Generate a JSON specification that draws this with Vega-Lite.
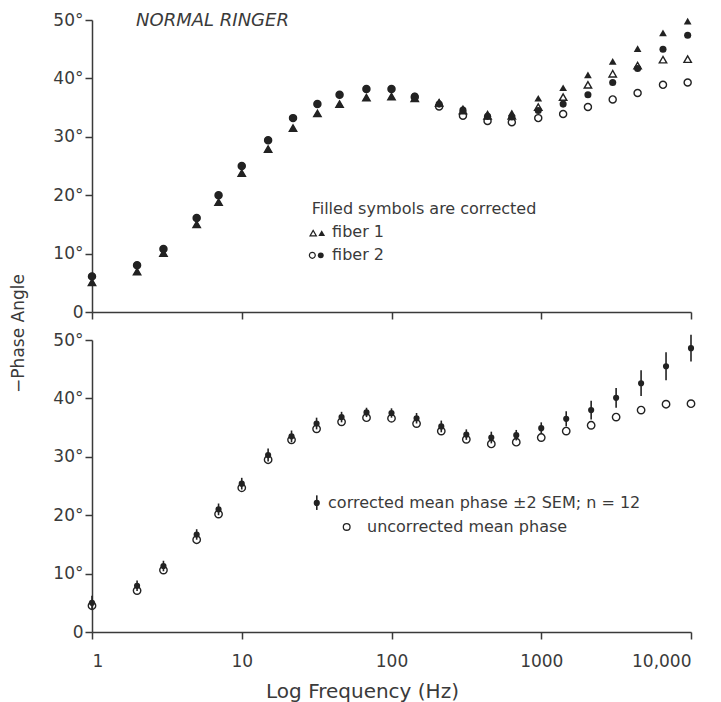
{
  "$schema": "https://vega.github.io/schema/vega-lite/v6.json",
  "background": "white",
  "autosize": {"type": "pad"},
  "padding": {"left": 9, "top": 11, "right": 0, "bottom": 5},
  "spacing": 28,
  "bounds": "flush",
  "config": {
    "view": {"stroke": null},
    "font": "DejaVu Sans",
    "axis": {
      "grid": false,
      "domainColor": "#3a3a3a",
      "domainWidth": 1.5,
      "tickColor": "#3a3a3a",
      "tickWidth": 1.5,
      "tickSize": 7,
      "labelFont": "DejaVu Sans",
      "labelFontSize": 17,
      "labelColor": "#3a3a3a",
      "titleFont": "DejaVu Sans",
      "titleFontSize": 17,
      "titleFontWeight": "normal",
      "titleColor": "#3a3a3a"
    },
    "axisY": {"labelPadding": 2},
    "axisX": {"labelPadding": 14}
  },
  "datasets": {
    "top": [
      {"f": 1, "tri_corr": 5.1, "circ_corr": 6.1, "tri_unc": 5.1, "circ_unc": 6.1},
      {"f": 2, "tri_corr": 6.9, "circ_corr": 8.0, "tri_unc": 6.9, "circ_unc": 8.0},
      {"f": 3, "tri_corr": 10.1, "circ_corr": 10.8, "tri_unc": 10.1, "circ_unc": 10.8},
      {"f": 5, "tri_corr": 15.0, "circ_corr": 16.1, "tri_unc": 15.0, "circ_unc": 16.1},
      {"f": 7, "tri_corr": 18.8, "circ_corr": 20.0, "tri_unc": 18.8, "circ_unc": 20.0},
      {"f": 10, "tri_corr": 23.8, "circ_corr": 25.0, "tri_unc": 23.8, "circ_unc": 25.0},
      {"f": 15, "tri_corr": 27.9, "circ_corr": 29.4, "tri_unc": 27.9, "circ_unc": 29.4},
      {"f": 22, "tri_corr": 31.5, "circ_corr": 33.2, "tri_unc": 31.5, "circ_unc": 33.2},
      {"f": 32, "tri_corr": 34.0, "circ_corr": 35.6, "tri_unc": 34.0, "circ_unc": 35.6},
      {"f": 45, "tri_corr": 35.6, "circ_corr": 37.2, "tri_unc": 35.6, "circ_unc": 37.2},
      {"f": 68, "tri_corr": 36.7, "circ_corr": 38.2, "tri_unc": 36.7, "circ_unc": 38.2},
      {"f": 100, "tri_corr": 36.9, "circ_corr": 38.2, "tri_unc": 36.9, "circ_unc": 38.2},
      {"f": 143, "tri_corr": 36.6, "circ_corr": 37.0, "tri_unc": 36.6, "circ_unc": 36.8},
      {"f": 208, "tri_corr": 36.0, "circ_corr": 35.6, "tri_unc": 35.8, "circ_unc": 35.2},
      {"f": 300, "tri_corr": 34.9, "circ_corr": 34.6, "tri_unc": 34.5, "circ_unc": 33.6},
      {"f": 438, "tri_corr": 34.0, "circ_corr": 33.5, "tri_unc": 33.6, "circ_unc": 32.7},
      {"f": 636, "tri_corr": 34.1, "circ_corr": 33.4, "tri_unc": 33.6, "circ_unc": 32.5},
      {"f": 955, "tri_corr": 36.6, "circ_corr": 34.5, "tri_unc": 35.1, "circ_unc": 33.2},
      {"f": 1400, "tri_corr": 38.4, "circ_corr": 35.6, "tri_unc": 36.8, "circ_unc": 33.9},
      {"f": 2050, "tri_corr": 40.6, "circ_corr": 37.2, "tri_unc": 38.9, "circ_unc": 35.1},
      {"f": 3000, "tri_corr": 42.9, "circ_corr": 39.3, "tri_unc": 40.8, "circ_unc": 36.4},
      {"f": 4400, "tri_corr": 45.1, "circ_corr": 41.7, "tri_unc": 42.2, "circ_unc": 37.5},
      {"f": 6500, "tri_corr": 47.8, "circ_corr": 45.0, "tri_unc": 43.2, "circ_unc": 38.9},
      {"f": 9500, "tri_corr": 49.8, "circ_corr": 47.4, "tri_unc": 43.3, "circ_unc": 39.3}
    ],
    "bottom": [
      {"f": 1, "corr": 5.0, "lo": 3.8, "hi": 6.2, "unc": 4.5},
      {"f": 2, "corr": 7.9, "lo": 7.0, "hi": 8.8, "unc": 7.1},
      {"f": 3, "corr": 11.3, "lo": 10.4, "hi": 12.2, "unc": 10.6},
      {"f": 5, "corr": 16.7, "lo": 15.8, "hi": 17.6, "unc": 15.8},
      {"f": 7, "corr": 21.0, "lo": 20.0, "hi": 22.0, "unc": 20.2},
      {"f": 10, "corr": 25.4, "lo": 24.4, "hi": 26.4, "unc": 24.7},
      {"f": 15, "corr": 30.3, "lo": 29.2, "hi": 31.4, "unc": 29.5},
      {"f": 21.5, "corr": 33.5, "lo": 32.5, "hi": 34.5, "unc": 32.9},
      {"f": 31.6, "corr": 35.7, "lo": 34.7, "hi": 36.7, "unc": 34.8},
      {"f": 46.4, "corr": 36.8, "lo": 35.9, "hi": 37.7, "unc": 36.0},
      {"f": 68.1, "corr": 37.6, "lo": 36.8, "hi": 38.4, "unc": 36.7},
      {"f": 100, "corr": 37.5, "lo": 36.7, "hi": 38.3, "unc": 36.6},
      {"f": 147, "corr": 36.6, "lo": 35.7, "hi": 37.5, "unc": 35.7},
      {"f": 215, "corr": 35.2, "lo": 34.2, "hi": 36.2, "unc": 34.4},
      {"f": 316, "corr": 33.8, "lo": 32.9, "hi": 34.7, "unc": 33.0},
      {"f": 464, "corr": 33.3, "lo": 32.3, "hi": 34.3, "unc": 32.2},
      {"f": 681, "corr": 33.7, "lo": 32.8, "hi": 34.6, "unc": 32.5},
      {"f": 1000, "corr": 34.9, "lo": 33.9, "hi": 35.9, "unc": 33.3},
      {"f": 1468, "corr": 36.5, "lo": 35.2, "hi": 37.8, "unc": 34.4},
      {"f": 2154, "corr": 38.0, "lo": 36.4, "hi": 39.6, "unc": 35.4},
      {"f": 3162, "corr": 40.1, "lo": 38.4, "hi": 41.8, "unc": 36.8},
      {"f": 4642, "corr": 42.6, "lo": 40.4, "hi": 44.8, "unc": 38.0},
      {"f": 6813, "corr": 45.5, "lo": 43.1, "hi": 47.9, "unc": 39.0},
      {"f": 10000, "corr": 48.6, "lo": 46.3, "hi": 50.9, "unc": 39.1}
    ]
  },
  "vconcat": [
    {
      "width": 599,
      "height": 292,
      "data": {"name": "top"},
      "transform": [{"fold": ["circ_unc", "tri_unc", "circ_corr", "tri_corr"], "as": ["series", "phase"]}],
      "encoding": {
        "x": {
          "field": "f",
          "type": "quantitative",
          "scale": {"type": "log", "domain": [1, 10000], "nice": false},
          "axis": {"values": [1, 10, 100, 1000, 10000], "labels": false, "title": null}
        },
        "y": {
          "field": "phase",
          "type": "quantitative",
          "scale": {"domain": [0, 50], "nice": false},
          "axis": {
            "values": [0, 10, 20, 30, 40, 50],
            "labelExpr": "datum.value == 0 ? '0' : datum.value + '°'",
            "title": "−Phase Angle",
            "titleX": -74,
            "titleY": 313,
            "titleAngle": -90,
            "titleAlign": "center",
            "titleBaseline": "middle"
          }
        }
      },
      "layer": [
        {
          "transform": [{"filter": "datum.series == 'circ_unc'"}],
          "mark": {"type": "point", "shape": "circle", "filled": false, "size": 50, "strokeWidth": 1.4, "color": "#222222", "opacity": 1}
        },
        {
          "transform": [{"filter": "datum.series == 'tri_unc'"}],
          "mark": {"type": "point", "shape": "triangle-up", "filled": false, "size": 55, "strokeWidth": 1.4, "color": "#222222", "opacity": 1}
        },
        {
          "transform": [{"filter": "datum.series == 'circ_corr'"}],
          "mark": {"type": "point", "shape": "circle", "filled": true, "size": 50, "color": "#222222", "opacity": 1}
        },
        {
          "transform": [{"filter": "datum.series == 'tri_corr'"}],
          "mark": {"type": "point", "shape": "triangle-up", "filled": true, "size": 60, "color": "#222222", "opacity": 1}
        },
        {
          "transform": [{"filter": "datum.f == 1 && datum.series == 'circ_unc'"}],
          "layer": [
            {
              "mark": {"type": "text", "text": "NORMAL RINGER", "align": "left", "baseline": "middle", "fontSize": 18, "fontStyle": "italic", "color": "#3a3a3a"},
              "encoding": {"x": {"datum": 1.97}, "y": {"datum": 49.8}}
            },
            {
              "mark": {"type": "text", "text": "Filled symbols are corrected", "align": "left", "baseline": "middle", "fontSize": 16, "color": "#3a3a3a"},
              "encoding": {"x": {"datum": 29.3}, "y": {"datum": 17.7}}
            },
            {
              "mark": {"type": "text", "text": "fiber 1", "align": "left", "baseline": "middle", "fontSize": 16, "color": "#3a3a3a"},
              "encoding": {"x": {"datum": 40.1}, "y": {"datum": 13.7}}
            },
            {
              "mark": {"type": "text", "text": "fiber 2", "align": "left", "baseline": "middle", "fontSize": 16, "color": "#3a3a3a"},
              "encoding": {"x": {"datum": 40.1}, "y": {"datum": 9.7}}
            },
            {
              "mark": {"type": "point", "shape": "triangle-up", "filled": false, "size": 40, "strokeWidth": 1.2, "color": "#222222", "opacity": 1},
              "encoding": {"x": {"datum": 30.0}, "y": {"datum": 13.5}}
            },
            {
              "mark": {"type": "point", "shape": "triangle-up", "filled": true, "size": 45, "color": "#222222", "opacity": 1},
              "encoding": {"x": {"datum": 34.2}, "y": {"datum": 13.5}}
            },
            {
              "mark": {"type": "point", "shape": "circle", "filled": false, "size": 35, "strokeWidth": 1.2, "color": "#222222", "opacity": 1},
              "encoding": {"x": {"datum": 29.6}, "y": {"datum": 9.7}}
            },
            {
              "mark": {"type": "point", "shape": "circle", "filled": true, "size": 35, "color": "#222222", "opacity": 1},
              "encoding": {"x": {"datum": 33.7}, "y": {"datum": 9.7}}
            }
          ]
        }
      ]
    },
    {
      "width": 599,
      "height": 292,
      "data": {"name": "bottom"},
      "encoding": {
        "x": {
          "field": "f",
          "type": "quantitative",
          "scale": {"type": "log", "domain": [1, 10000], "nice": false},
          "axis": {
            "values": [1, 10, 100, 1000, 10000],
            "labelExpr": "datum.value >= 10000 ? '10,000' : '' + datum.value",
            "title": "Log Frequency (Hz)",
            "titleFontSize": 20,
            "titleX": 270,
            "titleY": 59,
            "titleAlign": "center",
            "titleBaseline": "middle"
          }
        },
        "y": {
          "field": "corr",
          "type": "quantitative",
          "scale": {"domain": [0, 50], "nice": false},
          "axis": {
            "values": [0, 10, 20, 30, 40, 50],
            "labelExpr": "datum.value == 0 ? '0' : datum.value + '°'",
            "title": null
          }
        }
      },
      "layer": [
        {
          "mark": {"type": "rule", "strokeWidth": 1.6, "color": "#222222"},
          "encoding": {"y": {"field": "lo", "type": "quantitative"}, "y2": {"field": "hi"}}
        },
        {
          "mark": {"type": "point", "shape": "circle", "filled": false, "size": 55, "strokeWidth": 1.4, "color": "#222222", "opacity": 1},
          "encoding": {"y": {"field": "unc", "type": "quantitative"}}
        },
        {
          "mark": {"type": "point", "shape": "circle", "filled": true, "size": 38, "color": "#222222", "opacity": 1}
        },
        {
          "transform": [{"filter": "datum.f == 1"}],
          "layer": [
            {
              "mark": {"type": "rule", "strokeWidth": 1.6, "color": "#222222"},
              "encoding": {"x": {"datum": 31.7}, "y": {"datum": 20.9}, "y2": {"datum": 23.4}}
            },
            {
              "mark": {"type": "point", "shape": "circle", "filled": true, "size": 38, "color": "#222222", "opacity": 1},
              "encoding": {"x": {"datum": 31.7}, "y": {"datum": 22.1}}
            },
            {
              "mark": {"type": "text", "text": "corrected mean phase ±2 SEM;  n = 12", "align": "left", "baseline": "middle", "fontSize": 16, "color": "#3a3a3a"},
              "encoding": {"x": {"datum": 37.7}, "y": {"datum": 22.1}}
            },
            {
              "mark": {"type": "point", "shape": "circle", "filled": false, "size": 45, "strokeWidth": 1.3, "color": "#222222", "opacity": 1},
              "encoding": {"x": {"datum": 50.2}, "y": {"datum": 18.0}}
            },
            {
              "mark": {"type": "text", "text": "uncorrected mean phase", "align": "left", "baseline": "middle", "fontSize": 16, "color": "#3a3a3a"},
              "encoding": {"x": {"datum": 68.6}, "y": {"datum": 18.0}}
            }
          ]
        }
      ]
    }
  ]
}
